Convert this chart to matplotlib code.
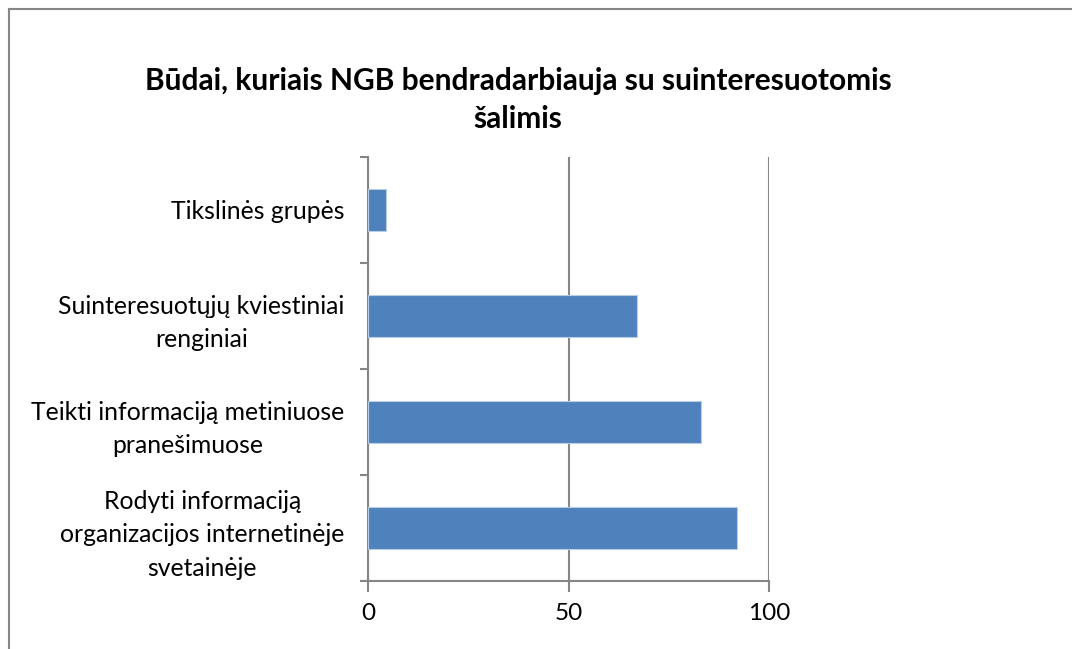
import matplotlib
matplotlib.use("Agg")
import matplotlib.pyplot as plt
from matplotlib.lines import Line2D
import numpy as np

plt.rcParams['font.family'] = ['Lato', 'DejaVu Sans']

# duomenys (iš viršaus į apačią)
categories = ["Tikslinės grupės",
              "Suinteresuotųjų kviestiniai\nrenginiai",
              "Teikti informaciją metiniuose\npranešimuose",
              "Rodyti informaciją\norganizacijos internetinėje\nsvetainėje"]
values = [4.4, 67, 83, 92]
xticks = [0, 50, 100]
title = "Būdai, kuriais NGB bendradarbiauja su suinteresuotomis\nšalimis"

grey = '#868686'
fig = plt.figure(figsize=(10.72, 6.49), dpi=100)
ax = fig.add_axes([368/1072, 1 - 580.7/649, (769-368)/1072, (580.7-157)/649])

pos = np.arange(len(categories))
ax.barh(pos, values, height=0.4, color='#4F81BD', edgecolor='#B9CDE5', linewidth=0.8, zorder=3)

ax.set_xlim(0, 100)
ax.set_ylim(-0.5, len(categories) - 0.5)
ax.invert_yaxis()

ax.set_xticks(xticks)
ax.tick_params(axis='x', length=8, width=1.5, color=grey, labelsize=17.5, pad=8)
ax.grid(axis='x', color=grey, linewidth=1.5, zorder=0)

# kategorijų ribos - didžiosios žymės, pavadinimai - mažosios
ax.set_yticks(np.arange(len(categories) + 1) - 0.5)
ax.set_yticklabels([])
ax.set_yticks(pos, minor=True)
ax.set_yticklabels(categories, minor=True)
ax.tick_params(axis='y', which='major', length=6, width=1.5, color=grey)
ax.tick_params(axis='y', which='minor', length=0, labelsize=17.8, pad=17)
for lbl in ax.get_yticklabels(minor=True):
    lbl.set_multialignment('center')
    lbl.set_linespacing(1.55)

for s in ['top', 'right']:
    ax.spines[s].set_visible(False)
for s in ['left', 'bottom']:
    ax.spines[s].set_color(grey)
    ax.spines[s].set_linewidth(1.5)

fig.text(518/1072, 1 - 100/649, title, ha='center', va='center',
         fontsize=21.5, fontweight='bold', linespacing=1.4)

# rėmelis
bx0, bx1, by = 8.5/1072, 1071.5/1072, 1 - 9/649
for xs, ys in [([bx0, bx0], [0, by]), ([bx0, bx1], [by, by])]:
    fig.add_artist(Line2D(xs, ys, color=grey, linewidth=1.5, transform=fig.transFigure))

fig.savefig('out.png', dpi=100)
